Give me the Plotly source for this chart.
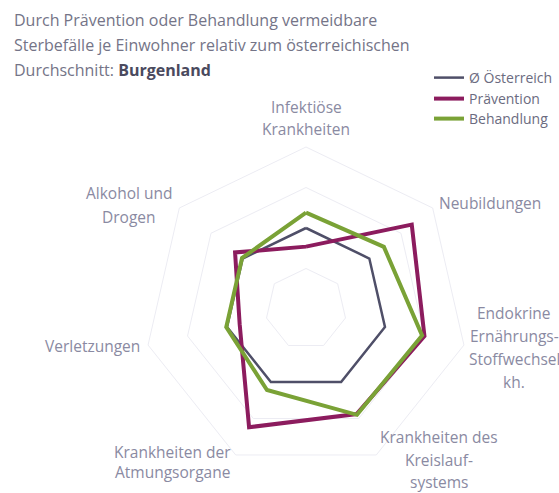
import plotly.graph_objects as go

categories = [
    "Infektiöse Krankheiten",
    "Neubildungen",
    "Endokrine Ernährungs- Stoffwechsel kh.",
    "Krankheiten des Kreislaufsystems",
    "Krankheiten der Atmungsorgane",
    "Verletzungen",
    "Alkohol und Drogen",
]
category_label_lines = [
    ["Infektiöse", "Krankheiten"],
    ["Neubildungen"],
    ["Endokrine", "Ernährungs-", "Stoffwechsel", "kh."],
    ["Krankheiten des", "Kreislauf-", "systems"],
    ["Krankheiten der", "Atmungsorgane"],
    ["Verletzungen"],
    ["Alkohol und", "Drogen"],
]
oesterreich = [1.0, 1.0, 1.0, 1.0, 1.0, 1.0, 1.0]
praevention = [0.77, 1.67, 1.50, 1.44, 1.62, 0.84, 1.12]
behandlung = [1.19, 1.23, 1.47, 1.45, 1.11, 1.01, 1.01]

series = [
    ("Ø Österreich", oesterreich, "#4f4f68", 2.5, "legend"),
    ("Prävention", praevention, "#8c1c5e", 4, "legend2"),
    ("Behandlung", behandlung, "#7aa236", 4, "legend3"),
]

fig = go.Figure()
for name, vals, color, w, lg in series:
    fig.add_trace(go.Scatterpolar(
        r=vals + vals[:1],
        theta=categories + categories[:1],
        mode="lines",
        name=name,
        legend=lg,
        line=dict(color=color, width=w),
    ))

W, H = 559, 493
cx, cy, R = 306, 309, 162


def legend_at(ypx):
    return dict(x=429 / W, y=1 - ypx / H, xanchor="left", yanchor="middle",
                font=dict(size=14, color="#6b6b80"), bgcolor="rgba(0,0,0,0)")


fig.update_layout(
    width=W, height=H,
    margin=dict(l=0, r=0, t=0, b=0),
    paper_bgcolor="white",
    plot_bgcolor="white",
    font=dict(family="Open Sans", color="#8a8aa2"),
    polar=dict(
        domain=dict(x=[(cx - R) / W, (cx + R) / W], y=[(H - cy - R) / H, (H - cy + R) / H]),
        gridshape="linear",
        bgcolor="white",
        radialaxis=dict(range=[0, 2], tickvals=[0.5, 1, 1.5, 2], showticklabels=False,
                        showline=False, ticks="", gridcolor="#ececf3", gridwidth=1),
        angularaxis=dict(direction="clockwise", rotation=90, showgrid=False,
                         linecolor="#ececf3", linewidth=1, ticks="",
                         showticklabels=False),
    ),
    legend=legend_at(78),
    legend2=legend_at(99),
    legend3=legend_at(119),
    showlegend=True,
)

# category labels (outside the polygon), centre positions in pixels
label_pos = [(306, 107), (490, 203), (514, 313), (439, 437), (173, 452), (92, 346), (129, 193)]
label_gap = [21.5, 0, 23, 22.5, 20, 0, 24]
for lines, (lx, ly), gap in zip(category_label_lines, label_pos, label_gap):
    for j, ln in enumerate(lines):
        fig.add_annotation(text=ln, x=lx / W, y=1 - (ly + gap * j) / H, xref="paper", yref="paper",
                           xanchor="center", yanchor="middle", showarrow=False,
                           font=dict(size=15.5, color="#8a8aa2", family="Open Sans"))

title_lines = [
    "Durch Prävention oder Behandlung vermeidbare",
    "Sterbefälle je Einwohner relativ zum österreichischen",
    "Durchschnitt: <b style='color:#4a4a5e'>Burgenland</b>",
]
for i, t in enumerate(title_lines):
    fig.add_annotation(text=t, x=12 / W, y=1 - (20 + 25 * i) / H, xref="paper", yref="paper",
                       xanchor="left", yanchor="middle", showarrow=False,
                       font=dict(size=16, color="#747487", family="Open Sans"))

fig.write_html("out.html", config={"displayModeBar": False},
               post_script="document.body.style.margin='0';")
